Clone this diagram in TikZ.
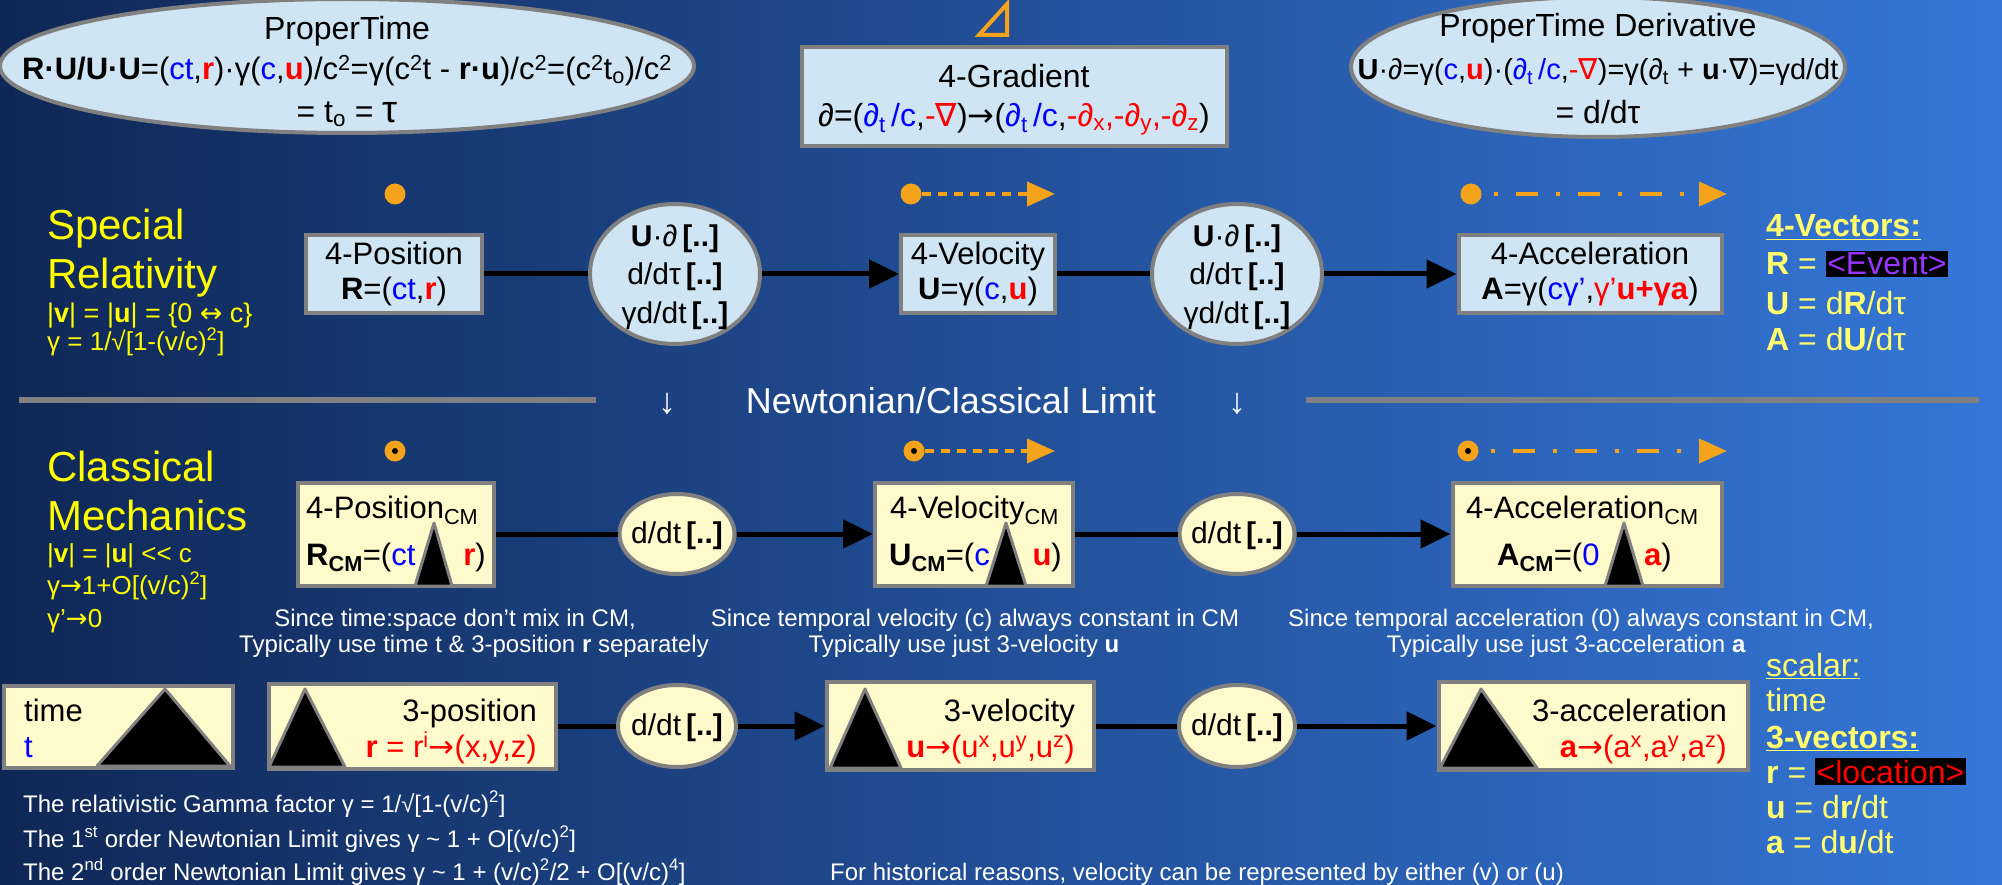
\documentclass[tikz,border=0pt]{standalone}
\usepackage{fontspec}
\setmainfont{Liberation Sans}
\newfontfamily\djv{DejaVu Sans}
\usetikzlibrary{arrows.meta, positioning, shapes.geometric, calc}

\definecolor{bgL}{HTML}{0F2756}
\definecolor{bgM}{HTML}{1A48A2}
\definecolor{bgR}{HTML}{3577D8}
\definecolor{srfill}{HTML}{CFE5F3}
\definecolor{cmfill}{HTML}{FFFACC}
\definecolor{rimgray}{HTML}{808080}
\definecolor{orng}{HTML}{F5A31A}
\definecolor{ylw}{HTML}{FFFF00}
\definecolor{pylw}{HTML}{FFFF70}
\definecolor{evpurple}{HTML}{9933FF}
\definecolor{vblue}{HTML}{0000FF}
\definecolor{vred}{HTML}{FF0000}

\newcommand{\fsz}[2]{\fontsize{#1}{#2}\selectfont}
\newcommand{\cblu}[1]{\textcolor{vblue}{#1}}
\newcommand{\cred}[1]{\textcolor{vred}{#1}}
\newcommand{\nab}{{\djv ∇}}
\newcommand{\rarr}{{\djv →}}
\newcommand{\brk}{\,{\bfseries[..]}}
\newcommand{\sps}[1]{\textsuperscript{#1}}
\newcommand{\sbs}[1]{\textsubscript{#1}}
\setlength{\fboxsep}{1.5pt}

\begin{document}
\begin{tikzpicture}[x=1pt, y=-1pt,
    srbox/.style = {rectangle, draw=rimgray, line width=4pt, fill=srfill, inner sep=2pt, align=center, font=\fsz{31}{35}},
    cmbox/.style = {rectangle, draw=rimgray, line width=4pt, fill=cmfill, inner sep=0pt},
    srell/.style = {ellipse, draw=rimgray, line width=4pt, fill=srfill, inner sep=0pt},
    cmell/.style = {ellipse, draw=rimgray, line width=4pt, fill=cmfill, inner sep=0pt},
    intxt/.style = {inner sep=0pt, align=center, font=\fsz{30}{38.5}},
    lbl/.style = {inner sep=0pt, text=black, font=\fsz{32}{36}},
    wlbl/.style = {inner sep=0pt, text=white, font=\fsz{24}{28}},
    ylbl/.style = {inner sep=0pt, text=ylw, anchor=base west},
    pylbl/.style = {inner sep=0pt, text=pylw, anchor=base west, font=\fsz{32}{36}},
    blackwedge/.style = {fill=black, draw=rimgray, line width=3pt, line join=round},
    odot/.style = {circle, fill=orng, minimum size=21pt, inner sep=0pt},
    oring/.style = {odot, path picture={\fill[black] (path picture bounding box.center) circle (3pt);}},
    oarr/.style = {orng, line width=4pt, -{Triangle[length=28pt, width=24pt]}},
    odash/.style = {dash pattern=on 9pt off 7pt},
    odashdot/.style = {dash pattern=on 4pt off 18pt on 22pt off 18pt, dash phase=50pt},
    sepline/.style = {draw=rimgray, line width=6pt},
    every edge/.style = {draw, black, line width=5pt},
    arrowed/.style = {-{Triangle[length=30pt, width=28pt]}}
  ]
  % background, same size as the slide
  \useasboundingbox (0,0) rectangle (2002,885);
  \shade[left color=bgL, middle color=bgM, right color=bgR] (0,0) rectangle (2002,885);

  % top row: proper time, 4-gradient, proper time derivative
  \node[srell, minimum width=694pt, minimum height=134pt] (ptime) at (347,66) {};
  \node[lbl, anchor=base] (ptimea) at (347,40) {ProperTime};
  \node[lbl, anchor=base, font=\fsz{31}{36}] (ptimeb) at (347,80) {\textbf{R·U/U·U}=(\cblu{ct},\cred{\textbf{r}})·γ(\cblu{c},\cred{\textbf{u}})/c\sps{2}=γ(c\sps{2}t - \textbf{r·u})/c\sps{2}=(c\sps{2}t\sbs{o})/c\sps{2}};
  \node[lbl, anchor=base] (ptimec) at (347,123) {= t\sbs{o} = {\fsz{38}{40}τ}};

  \draw[orng, line width=4pt] (979,35) -- (1007,4) -- (1007,35) -- cycle;
  \node[srbox, minimum width=425pt, minimum height=99pt] (grad) at (1014,97) {};
  \node[lbl, anchor=base] (grada) at (1014,88) {4-Gradient};
  \node[lbl, anchor=base] (gradb) at (1014,127) {∂=(\cblu{∂\sbs{t}\,/c},\cred{-\nab})\rarr(\cblu{∂\sbs{t}\,/c},\cred{-∂\sbs{x},-∂\sbs{y},-∂\sbs{z}})};

  \node[srell, minimum width=494pt, minimum height=140pt] (dtau) at (1598,67) {};
  \node[lbl, anchor=base] (dtaua) at (1598,37) {ProperTime Derivative};
  \node[lbl, anchor=base, font=\fsz{29}{33}] (dtaub) at (1598,80) {\textbf{U}·∂=γ(\cblu{c},\cred{\textbf{u}})·(\cblu{∂\sbs{t}\,/c},\cred{-\nab})=γ(∂\sbs{t} + \textbf{u}·\nab)=γd/dt};
  \node[lbl, anchor=base] (dtauc) at (1598,124) {= d/dτ};

  % special relativity row
  \node[ylbl, font=\fsz{42}{48}] (srh1) at (47,240) {Special};
  \node[ylbl, font=\fsz{42}{48}] (srh2) at (47,288) {Relativity};
  \node[ylbl, font=\fsz{27}{28}] (srh3) at (47,322) {|\textbf{v}| = |\textbf{u}| = \{0 {\djv ↔} c\}};
  \node[ylbl, font=\fsz{26}{28}] (srh4) at (47,350) {γ = 1/√[1-(v/c)\sps{2}]};

  \node[odot] (srdr) at (395,194) {};
  \node[odot] (srdu) at (911,194) {};
  \coordinate (srtu) at (1055,194);
  \node[odot] (srda) at (1471,194) {};
  \coordinate (srta) at (1727,194);
  \path (srdu) edge[oarr, odash] (srtu)
        (srda) edge[oarr, odashdot] (srta);

  \node[srbox, minimum width=176pt, minimum height=78pt] (p4) at (394,274) {4-Position\\\textbf{R}=(\cblu{ct},\cred{\textbf{r}})};
  \node[srell, minimum width=170pt, minimum height=140pt] (e1) at (675,274) {};
  \node[intxt] (e1t) at (675,277) {\textbf{U}·∂\brk\\d/dτ\brk\\γd/dt\brk};
  \node[srbox, minimum width=154pt, minimum height=78pt] (v4) at (978,274) {4-Velocity\\\textbf{U}=γ(\cblu{c},\cred{\textbf{u}})};
  \node[srell, minimum width=170pt, minimum height=140pt] (e2) at (1237,274) {};
  \node[intxt] (e2t) at (1237,277) {\textbf{U}·∂\brk\\d/dτ\brk\\γd/dt\brk};
  \node[srbox, minimum width=263pt, minimum height=78pt] (a4) at (1590,274) {4-Acceleration\\\textbf{A}=γ(\cblu{cγ’},\cred{γ’\textbf{u+γa}})};
  \path (p4) edge (e1)
        (e1) edge[arrowed] (v4)
        (v4) edge (e2)
        (e2) edge[arrowed] (a4);

  \node[pylbl] (fv1) at (1766,237) {\underline{\textbf{4-Vectors:}}};
  \node[pylbl] (fv2) at (1766,275) {\textbf{R} = \colorbox{black}{\textcolor{evpurple}{<Event>}}};
  \node[pylbl] (fv3) at (1766,314) {\textbf{U} = d\textbf{R}/dτ};
  \node[pylbl] (fv4) at (1766,350) {\textbf{A} = d\textbf{U}/dτ};

  % newtonian limit divider
  \draw[sepline] (19,400) -- (596,400);
  \draw[sepline] (1306,400) -- (1979,400);
  \node[wlbl, font=\fsz{36}{40}, anchor=base] (dn1) at (667,413) {↓};
  \node[wlbl, font=\fsz{36}{40}, anchor=base] (ncl) at (951,413) {Newtonian/Classical Limit};
  \node[wlbl, font=\fsz{36}{40}, anchor=base] (dn2) at (1237,413) {↓};

  % classical mechanics row
  \node[ylbl, font=\fsz{42}{48}] (cmh1) at (47,481) {Classical};
  \node[ylbl, font=\fsz{42}{48}] (cmh2) at (47,530) {Mechanics};
  \node[ylbl, font=\fsz{26}{28}] (cmh3) at (47,562) {|\textbf{v}| = |\textbf{u}| <{}< c};
  \node[ylbl, font=\fsz{26}{28}] (cmh4) at (47,594) {γ\rarr1+O[(v/c)\sps{2}]};
  \node[ylbl, font=\fsz{26}{28}] (cmh5) at (47,627) {γ’\rarr0};

  \node[oring] (cmdr) at (395,451) {};
  \node[oring] (cmdu) at (914,451) {};
  \coordinate (cmtu) at (1055,451);
  \node[oring] (cmda) at (1468,451) {};
  \coordinate (cmta) at (1727,451);
  \path (cmdu) edge[oarr, odash] (cmtu)
        (cmda) edge[oarr, odashdot] (cmta);

  \node[cmbox, minimum width=196pt, minimum height=103pt] (p4cm) at (396,534) {};
  \draw[blackwedge] (415,586) -- (434,523) -- (452,586) -- cycle;
  \node[lbl, font=\fsz{31}{35}, anchor=base west] (p4cma) at (306,518) {4-Position\sbs{CM}};
  \node[lbl, font=\fsz{31}{35}, anchor=base west] (p4cmb) at (306,565) {\textbf{R}\sbs{\textbf{CM}}=(\cblu{ct}};
  \node[lbl, font=\fsz{31}{35}, anchor=base east] (p4cmc) at (486,565) {\cred{\textbf{r}})};

  \node[cmell, minimum width=115pt, minimum height=80pt] (ec1) at (677,534) {};
  \node[intxt, font=\fsz{30}{34}] (ec1t) at (677,536) {d/dt\brk};

  \node[cmbox, minimum width=198pt, minimum height=103pt] (v4cm) at (974,534) {};
  \draw[blackwedge] (986,586) -- (1006,523) -- (1026,586) -- cycle;
  \node[lbl, font=\fsz{31}{35}, anchor=base west] (v4cma) at (890,518) {4-Velocity\sbs{CM}};
  \node[lbl, font=\fsz{31}{35}, anchor=base west] (v4cmb) at (889,565) {\textbf{U}\sbs{\textbf{CM}}=(\cblu{c}};
  \node[lbl, font=\fsz{31}{35}, anchor=base east] (v4cmc) at (1062,565) {\cred{\textbf{u}})};

  \node[cmell, minimum width=115pt, minimum height=80pt] (ec2) at (1237,534) {};
  \node[intxt, font=\fsz{30}{34}] (ec2t) at (1237,536) {d/dt\brk};

  \node[cmbox, minimum width=269pt, minimum height=103pt] (a4cm) at (1587,534) {};
  \draw[blackwedge] (1605,586) -- (1624,523) -- (1643,586) -- cycle;
  \node[lbl, font=\fsz{31}{35}, anchor=base west] (a4cma) at (1466,518) {4-Acceleration\sbs{CM}};
  \node[lbl, font=\fsz{31}{35}, anchor=base west] (a4cmb) at (1497,565) {\textbf{A}\sbs{\textbf{CM}}=(\cblu{0}};
  \node[lbl, font=\fsz{31}{35}, anchor=base east] (a4cmc) at (1672,565) {\cred{\textbf{a}})};

  \path (p4cm) edge (ec1)
        (ec1) edge[arrowed] (v4cm)
        (v4cm) edge (ec2)
        (ec2) edge[arrowed] (a4cm);

  \node[wlbl, anchor=base] (nt1) at (455,626) {Since time:space don’t mix in CM,};
  \node[wlbl, anchor=base] (nt2) at (474,652) {Typically use time t \& 3-position \textbf{r} separately};
  \node[wlbl, anchor=base] (nt3) at (975,626) {Since temporal velocity (c) always constant in CM};
  \node[wlbl, anchor=base] (nt4) at (964,652) {Typically use just 3-velocity \textbf{u}};
  \node[wlbl, anchor=base] (nt5) at (1581,626) {Since temporal acceleration (0) always constant in CM,};
  \node[wlbl, anchor=base] (nt6) at (1566,652) {Typically use just 3-acceleration \textbf{a}};

  % 3-vector row
  \node[cmbox, minimum width=229pt, minimum height=82pt] (tm) at (118,727) {};
  \draw[blackwedge] (97,766) -- (165,689) -- (230,766) -- cycle;
  \node[lbl, font=\fsz{31}{35}, anchor=base west] (tma) at (24,721) {time};
  \node[lbl, font=\fsz{31}{35}, anchor=base west] (tmb) at (24,757) {\cblu{t}};

  \node[cmbox, minimum width=287pt, minimum height=85pt] (p3) at (412,726) {};
  \draw[blackwedge] (269,767) -- (305,689) -- (345,767) -- cycle;
  \node[lbl, font=\fsz{31}{35}, anchor=base east] (p3a) at (537,721) {3-position};
  \node[lbl, font=\fsz{31}{35}, anchor=base east] (p3b) at (537,757) {\cred{\textbf{r} = r\sps{i}\rarr(x,y,z)}};

  \node[cmell, minimum width=118pt, minimum height=82pt] (eb1) at (677,726) {};
  \node[intxt, font=\fsz{30}{34}] (eb1t) at (677,728) {d/dt\brk};

  \node[cmbox, minimum width=267pt, minimum height=88pt] (v3) at (960,726) {};
  \draw[blackwedge] (830,768) -- (865,689) -- (901,768) -- cycle;
  \node[lbl, font=\fsz{31}{35}, anchor=base east] (v3a) at (1075,721) {3-velocity};
  \node[lbl, font=\fsz{31}{35}, anchor=base east] (v3b) at (1075,757) {\cred{\textbf{u}\rarr(u\sps{x},u\sps{y},u\sps{z})}};

  \node[cmell, minimum width=116pt, minimum height=82pt] (eb2) at (1237,726) {};
  \node[intxt, font=\fsz{30}{34}] (eb2t) at (1237,728) {d/dt\brk};

  \node[cmbox, minimum width=309pt, minimum height=88pt] (a3) at (1593,726) {};
  \draw[blackwedge] (1440,768) -- (1481,689) -- (1537,768) -- cycle;
  \node[lbl, font=\fsz{31}{35}, anchor=base east] (a3a) at (1727,721) {3-acceleration};
  \node[lbl, font=\fsz{31}{35}, anchor=base east] (a3b) at (1727,757) {\cred{\textbf{a}\rarr(a\sps{x},a\sps{y},a\sps{z})}};

  \path (p3) edge (eb1)
        (eb1) edge[arrowed] (v3)
        (v3) edge (eb2)
        (eb2) edge[arrowed] (a3);

  \node[pylbl] (sv1) at (1766,676) {\underline{scalar:}};
  \node[pylbl] (sv2) at (1766,711) {time};
  \node[pylbl] (sv3) at (1766,748) {\underline{\textbf{3-vectors:}}};
  \node[pylbl] (sv4) at (1766,783) {\textbf{r} = \colorbox{black}{\textcolor{vred}{<location>}}};
  \node[pylbl] (sv5) at (1766,818) {\textbf{u} = d\textbf{r}/dt};
  \node[pylbl] (sv6) at (1766,853) {\textbf{a} = d\textbf{u}/dt};

  % notes at the bottom
  \node[wlbl, anchor=base west] (gm1) at (23,812) {The relativistic Gamma factor γ = 1/√[1-(v/c)\sps{2}]};
  \node[wlbl, anchor=base west] (gm2) at (23,847) {The 1\sps{st} order Newtonian Limit gives γ \textasciitilde{} 1 + O[(v/c)\sps{2}]};
  \node[wlbl, anchor=base west] (gm3) at (23,880) {The 2\sps{nd} order Newtonian Limit gives γ \textasciitilde{} 1 + (v/c)\sps{2}/2 + O[(v/c)\sps{4}]};
  \node[wlbl, anchor=base west] (hist) at (830,880) {For historical reasons, velocity can be represented by either (v) or (u)};
\end{tikzpicture}
\end{document}
